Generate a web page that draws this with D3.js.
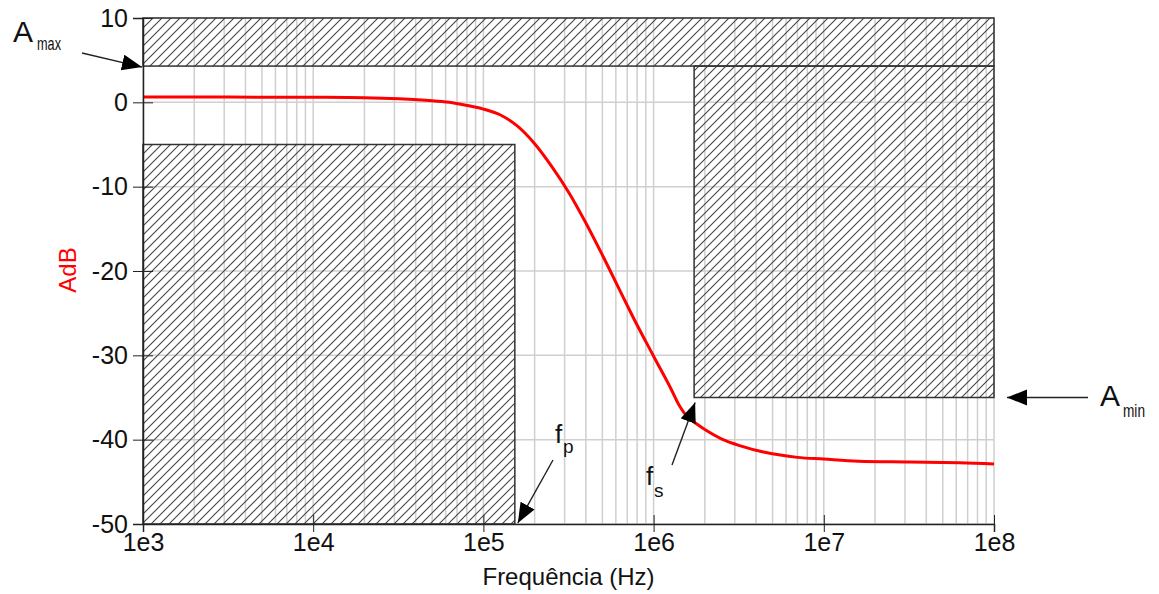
<!DOCTYPE html>
<html>
<head>
<meta charset="utf-8">
<script src="https://cdn.jsdelivr.net/npm/d3@7"></script>
<style>
    body { margin: 0; background: #fff; }
    text { font-family: "Liberation Sans", Arial, sans-serif; }
</style>
</head>
<body>
<div id="chart"></div>
<script>

// frequency response (Hz, dB)
const freq = [1e3, 3.2e3, 1e4, 2e4, 3.2e4, 5e4, 6.3e4, 7.9e4, 1e5, 1.26e5, 1.58e5, 2e5, 2.5e5, 3.2e5,
    4e5, 5e5, 6.3e5, 7.9e5, 1e6, 1.26e6, 1.41e6, 1.58e6, 1.78e6, 2e6, 2.5e6, 3.2e6, 4.5e6, 7e6,
    1e7, 1.6e7, 3.2e7, 6.3e7, 1e8];
const gain = [0.62, 0.62, 0.6, 0.55, 0.42, 0.2, 0.0, -0.35, -0.8, -1.5, -2.8, -4.9, -7.5, -10.8,
    -14.3, -18.1, -22.2, -26.2, -30.1, -33.9, -35.9, -37.3, -38.1, -38.8, -39.9, -40.7, -41.5, -42.1,
    -42.3, -42.55, -42.65, -42.75, -42.9];

// filter template
const aMax = 4.3, aPass = -5, aMin = -35;
const fp = 1.53e5, fs = 1.73e6;

const xTicks = [1e3, 1e4, 1e5, 1e6, 1e7, 1e8];
const xTickLabels = ["1e3", "1e4", "1e5", "1e6", "1e7", "1e8"];
const yTicks = [10, 0, -10, -20, -30, -40, -50];

let W = 1159, H = 594;
let margin = {top: 18, right: 165, bottom: 70, left: 143};

let svg = d3.select("#chart").append("svg")
    .attr("width", W)
    .attr("height", H);

let x = d3.scaleLog().domain([1e3, 1e8]).range([margin.left, W - margin.right]);
let y = d3.scaleLinear().domain([-50, 10]).range([H - margin.bottom, margin.top]);

let defs = svg.append("defs");
defs.append("pattern")
    .attr("id", "hatch")
    .attr("patternUnits", "userSpaceOnUse")
    .attr("width", 9).attr("height", 9)
    .append("path")
    .attr("d", "M0,9 L9,0 M-2,2 L2,-2 M7,11 L11,7")
    .attr("stroke", "#444")
    .attr("stroke-width", 1.1);

defs.append("marker")
    .attr("id", "head")
    .attr("markerUnits", "userSpaceOnUse")
    .attr("markerWidth", 22).attr("markerHeight", 18)
    .attr("refX", 20).attr("refY", 8)
    .attr("orient", "auto")
    .append("path")
    .attr("d", "M0,0 L20,8 L0,16 Z")
    .attr("fill", "#000");

//Grid
let minor = [];
for (let e = 3; e < 8; e++)
    for (let m = 1; m <= 9; m++)
        minor.push(m * Math.pow(10, e));
minor.push(1e8);

svg.append("g").selectAll("line")
    .data(minor)
    .enter().append("line")
    .attr("x1", d => x(d)).attr("x2", d => x(d))
    .attr("y1", y(10)).attr("y2", y(-50))
    .attr("stroke", "#cfcfcf")
    .attr("stroke-width", 1.5);

svg.append("g").selectAll("line")
    .data(yTicks)
    .enter().append("line")
    .attr("x1", x(1e3)).attr("x2", x(1e8))
    .attr("y1", d => y(d)).attr("y2", d => y(d))
    .attr("stroke", "#cfcfcf")
    .attr("stroke-width", 1.5);

//Hatched regions
let regions = [
    {f0: 1e3, f1: 1e8, a0: aMax, a1: 10},
    {f0: 1e3, f1: fp, a0: -50, a1: aPass},
    {f0: fs, f1: 1e8, a0: aMin, a1: aMax}
];

svg.append("g").selectAll("rect")
    .data(regions)
    .enter().append("rect")
    .attr("x", d => x(d.f0))
    .attr("y", d => y(d.a1))
    .attr("width", d => x(d.f1) - x(d.f0))
    .attr("height", d => y(d.a0) - y(d.a1))
    .attr("fill", "url(#hatch)")
    .attr("stroke", "#333")
    .attr("stroke-width", 1.5);

//Response curve
let pts = freq.map((f, i) => [f, gain[i]]);
svg.append("path")
    .datum(pts)
    .attr("fill", "none")
    .attr("stroke", "#ff0000")
    .attr("stroke-width", 3)
    .attr("d", d3.line().curve(d3.curveCatmullRom.alpha(0.5)).x(d => x(d[0])).y(d => y(d[1])));

//Axes
let xAxis = svg.append("g")
    .attr("transform", "translate(0," + y(-50) + ")")
    .call(d3.axisBottom(x).tickValues(xTicks).tickFormat((d, i) => xTickLabels[i]).tickSize(8).tickPadding(1));
xAxis.selectAll(".tick line").attr("y1", -9).attr("stroke", "#222");
xAxis.select(".domain").attr("stroke", "#222").attr("stroke-width", 1.5);
xAxis.selectAll("text").attr("font-size", 25).attr("fill", "#111")
    .style("font-family", "'Liberation Sans', Arial, sans-serif");

let yAxis = svg.append("g")
    .attr("transform", "translate(" + x(1e3) + ",0)")
    .call(d3.axisLeft(y).tickValues(yTicks).tickFormat(d => String(d)).tickSize(10).tickPadding(5));
yAxis.selectAll(".tick line").attr("x1", 10).attr("stroke", "#222");
yAxis.select(".domain").attr("stroke", "#222").attr("stroke-width", 1.5);
yAxis.selectAll("text").attr("font-size", 25).attr("fill", "#111")
    .style("font-family", "'Liberation Sans', Arial, sans-serif");

svg.append("text")
    .attr("transform", "translate(" + 76 + "," + 270 + ") rotate(-90)")
    .attr("text-anchor", "middle")
    .attr("font-size", 24)
    .attr("fill", "#ff0000")
    .text("AdB");

svg.append("text")
    .attr("x", (x(1e3) + x(1e8)) / 2)
    .attr("y", 585)
    .attr("text-anchor", "middle")
    .attr("font-size", 24)
    .attr("fill", "#111")
    .text("Frequência (Hz)");

//Annotations
let arrows = [
    {x1: 82, y1: 53, x2: x(1e3) - 1, y2: y(aMax) + 1},
    {x1: 553, y1: 460, x2: x(fp) + 3, y2: y(-50) - 1},
    {x1: 672, y1: 465, x2: x(fs) + 1, y2: y(aMin) + 5},
    {x1: 1088, y1: y(aMin), x2: x(1e8) + 13, y2: y(aMin)}
];

svg.append("g").selectAll("line")
    .data(arrows)
    .enter().append("line")
    .attr("x1", d => d.x1).attr("y1", d => d.y1)
    .attr("x2", d => d.x2).attr("y2", d => d.y2)
    .attr("stroke", "#222")
    .attr("stroke-width", 1.4)
    .attr("marker-end", "url(#head)");

function label(px, py, main, sub, mainSize, subSize, subDx, subDy, subLen)
{
    svg.append("text")
        .attr("x", px).attr("y", py)
        .attr("font-size", mainSize)
        .attr("fill", "#111")
        .text(main);
    let s = svg.append("text")
        .attr("x", px + subDx).attr("y", py + subDy)
        .attr("font-size", subSize)
        .attr("fill", "#111")
        .text(sub);
    if (subLen)
        s.attr("textLength", subLen).attr("lengthAdjust", "spacingAndGlyphs");
}

label(13, 42, "A", "max", 30, 19, 24, 8, 24);
label(1100, 406, "A", "min", 30, 19, 23, 11, 22);
label(555, 443, "f", "p", 26, 19, 8, 10);
label(646, 485, "f", "s", 26, 19, 8, 12);

</script>
</body>
</html>
